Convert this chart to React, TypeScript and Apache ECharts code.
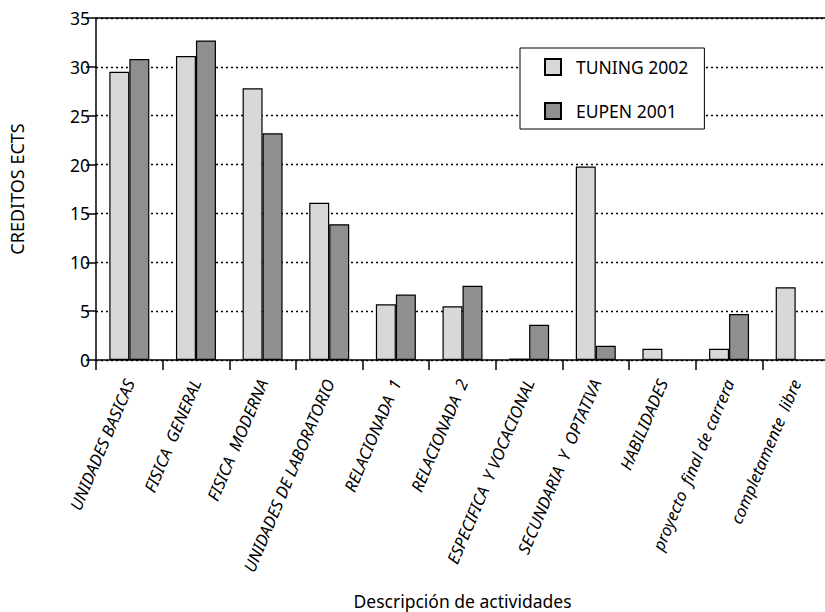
import React, { useEffect, useRef } from "react";
import * as echarts from "echarts";

const categories = [
  "UNIDADES BASICAS",
  "FISICA  GENERAL",
  "FISICA  MODERNA",
  "UNIDADES DE LABORATORIO",
  "RELACIONADA  1",
  "RELACIONADA  2",
  "ESPECIFICA  Y VOCACIONAL",
  "SECUNDARIA  Y  OPTATIVA",
  "HABILIDADES",
  "proyecto  final de carrera",
  "completamente  libre",
];
const tuning2002 = [29.5, 31.1, 27.8, 16.1, 5.7, 5.5, 0.15, 19.8, 1.15, 1.15, 7.45];
const eupen2001 = [30.8, 32.7, 23.2, 13.9, 6.7, 7.6, 3.6, 1.45, null, 4.7, null];
const seriesNames = ["TUNING 2002", "EUPEN 2001"];

const FONT = "Noto Sans";

export default function App() {
  const ref = useRef<HTMLDivElement>(null);
  useEffect(() => {
    const chart = echarts.init(ref.current!, null, { renderer: "svg" });
    chart.setOption({
      animation: false,
      backgroundColor: "#ffffff",
      textStyle: { fontFamily: FONT, color: "#000" },
      grid: { left: 96, top: 18, right: -4, bottom: 252, containLabel: false, outerBoundsMode: "none" },
      legend: {
        orient: "vertical",
        left: 520,
        top: 48,
        padding: [10, 16, 9, 24],
        itemGap: 26,
        itemWidth: 16,
        itemHeight: 16,
        icon: "rect",
        borderColor: "#000",
        borderWidth: 1,
        backgroundColor: "#fff",
        textStyle: { fontFamily: FONT, fontSize: 17.5, color: "#000", padding: [0, 0, 0, 10] },
        data: seriesNames,
      },
      xAxis: [
        {
          type: "category",
          data: categories,
          boundaryGap: true,
          axisLine: { lineStyle: { color: "#000", width: 1.5 } },
          axisTick: { show: true, length: 10, alignWithLabel: false, lineStyle: { color: "#000", width: 1.5 } },
          axisLabel: {
            rotate: 67,
            interval: 0,
            margin: 20,
            fontStyle: "italic",
            fontSize: 16.5,
            color: "#000",
            fontFamily: FONT,
          },
          name: "Descripción de actividades",
          nameLocation: "middle",
          nameGap: 232,
          nameTextStyle: { fontSize: 17.5, color: "#000", fontFamily: FONT },
        },
        {
          type: "category",
          data: categories,
          position: "top",
          axisLine: { show: true, lineStyle: { color: "#000", width: 1.5 } },
          axisTick: { show: false },
          axisLabel: { show: false },
        },
      ],
      yAxis: {
        type: "value",
        min: 0,
        max: 35,
        interval: 5,
        axisLine: { show: true, lineStyle: { color: "#000", width: 1.5 } },
        axisTick: { show: true, length: 10, lineStyle: { color: "#000", width: 1.5 } },
        axisLabel: { fontSize: 17.5, color: "#000", margin: 6, fontFamily: FONT },
        splitLine: { show: true, lineStyle: { color: "#000", type: [2, 3], width: 1.3 } },
        name: "CREDITOS ECTS",
        nameLocation: "middle",
        nameGap: 70,
        nameTextStyle: { fontSize: 18, color: "#000", fontFamily: FONT },
      },
      series: [
        {
          name: seriesNames[0],
          type: "bar",
          data: tuning2002,
          barWidth: 20,
          barGap: "0%",
          itemStyle: { color: "#d8d8d8", borderColor: "#000", borderWidth: 1.2 },
        },
        {
          name: seriesNames[1],
          type: "bar",
          data: eupen2001,
          barWidth: 20,
          barGap: "0%",
          itemStyle: { color: "#8f8f8f", borderColor: "#000", borderWidth: 1.2 },
        },
      ],
    });
    return () => chart.dispose();
  }, []);
  return <div ref={ref} style={{ position: "absolute", left: 0, top: 0, width: 825, height: 612 }} />;
}
